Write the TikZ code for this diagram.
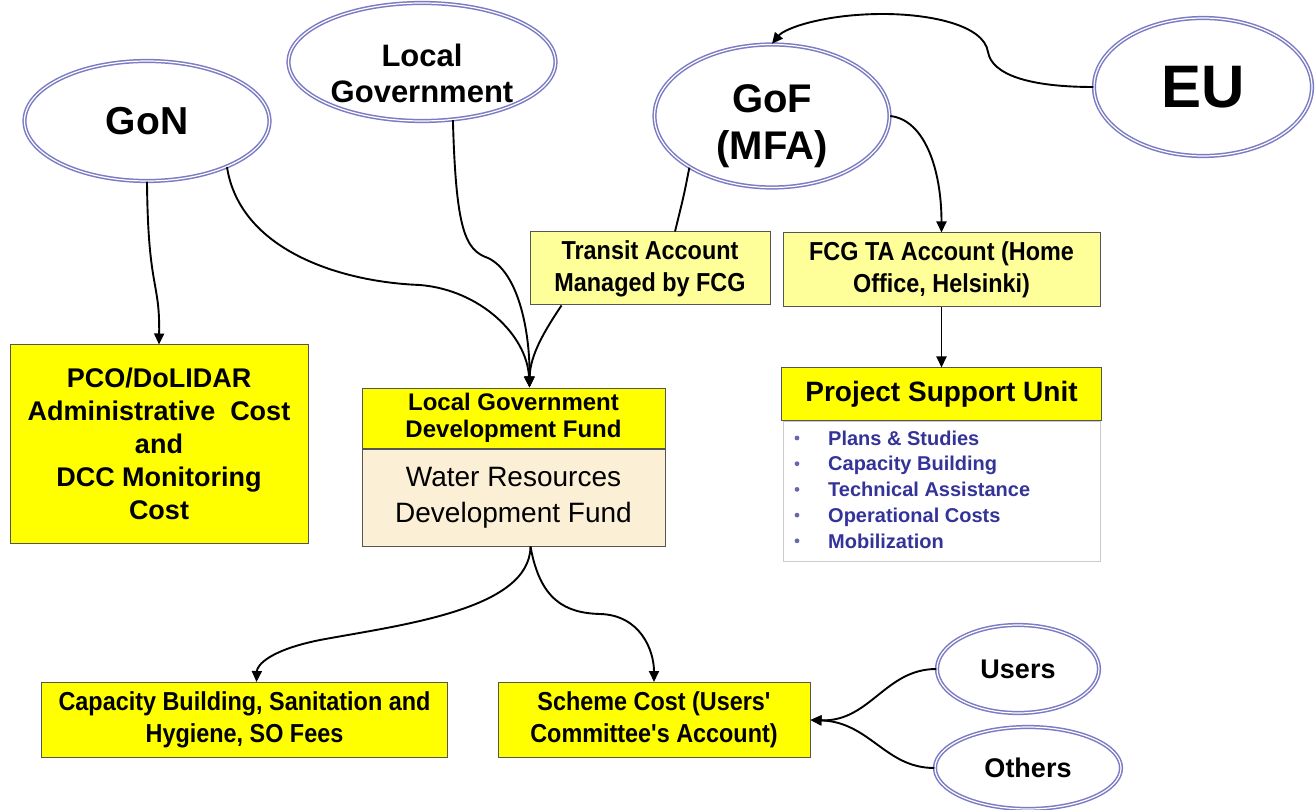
\documentclass[tikz,border=0pt]{standalone}
\usepackage{fontspec}
\setmainfont{Liberation Sans}
\newfontfamily\narrowfont[FakeStretch=0.9]{Liberation Sans}
\usetikzlibrary{shapes.geometric,arrows.meta,calc}
\definecolor{ringblue}{HTML}{7B7BC4}
\definecolor{fundyellow}{HTML}{FFFF00}
\definecolor{paleyellow}{HTML}{FFFF99}
\definecolor{fundbeige}{HTML}{FBEFD6}
\definecolor{boxgray}{HTML}{555555}
\definecolor{listblue}{HTML}{333399}
\tikzset{
source/.style={ellipse,draw=ringblue,double=white,double distance=1.2pt,line width=1.5pt,fill=white,align=center,inner sep=0pt},
account/.style={rectangle,draw=boxgray,line width=1pt,fill=paleyellow,align=center,inner sep=0pt},
fund/.style={account,fill=fundyellow},
flow/.style={line width=1.9pt,-{Triangle[length=11pt,width=10pt]}},
link/.style={line width=1.9pt}
}
\begin{document}
\begin{tikzpicture}[x=1pt,y=-1pt]
\useasboundingbox (0,0) rectangle (1315,810);
% sources
\node[source,minimum width=245pt,minimum height=120pt,font=\bfseries\fontsize{39}{47}\selectfont] (gon) at (147,121) {GoN};
\node[source,minimum width=267pt,minimum height=118pt,
  label={[align=center,yshift=-11pt,font=\bfseries\fontsize{31}{36}\selectfont]center:{Local\\Government}}] (lg) at (422,62) {};
\node[source,minimum width=235pt,minimum height=143pt,
  label={[align=center,yshift=-10pt,font=\bfseries\fontsize{40}{47}\selectfont]center:{GoF\\(MFA)}}] (gof) at (772,116) {};
\node[source,minimum width=218pt,minimum height=138pt,font=\bfseries\fontsize{60}{70}\selectfont] (eu) at (1203,87) {EU};
\node[source,minimum width=162pt,minimum height=88pt,font=\bfseries\fontsize{27}{32}\selectfont] (users) at (1018,669) {Users};
\node[source,minimum width=186pt,minimum height=82pt,font=\bfseries\fontsize{27}{32}\selectfont] (others) at (1028,768) {Others};
% accounts
\node[account,minimum width=240pt,minimum height=73pt,font=\narrowfont\bfseries\fontsize{26}{32}\selectfont] (transit) at (650,268.5) {Transit Account\\Managed by FCG};
\node[account,minimum width=317pt,minimum height=74pt,font=\narrowfont\bfseries\fontsize{26}{32}\selectfont] (fcg) at (941.5,270) {FCG TA Account (Home\\Office, Helsinki)};
\node[fund,minimum width=298pt,minimum height=198pt,font=\bfseries\fontsize{27}{33}\selectfont] (pco) at (159,444) {PCO/DoLIDAR\\Administrative~~Cost\\and\\DCC Monitoring\\Cost};
\node[fund,minimum width=303pt,minimum height=60pt,font=\bfseries\fontsize{24}{27}\selectfont] (lgdf) at (513.5,418) {Local Government\\Development Fund};
\node[account,fill=fundbeige,minimum width=303pt,minimum height=97pt,font=\fontsize{28}{36}\selectfont,anchor=north] (wrdf) at (lgdf.south) {Water Resources\\Development Fund};
\node[fund,minimum width=320pt,minimum height=52pt,font=\bfseries\fontsize{28}{32}\selectfont] (psu) at (941.5,394) {Project Support Unit};
\node[rectangle,draw=black!20,line width=1pt,minimum width=317pt,minimum height=140pt,anchor=north] (tasks) at (psu.south) {};
\foreach \entry [count=\i] in {Plans \& Studies,Capacity Building,Technical Assistance,Operational Costs,Mobilization}
{
\fill[listblue!75] (797,{412.3+25.7*\i}) circle (2.4pt);
\node[anchor=base west,inner sep=0pt,text=listblue,font=\bfseries\fontsize{20}{24}\selectfont] (task\i) at (828,{419.5+25.7*\i}) {\entry};
}
\node[fund,minimum width=406pt,minimum height=75pt,font=\narrowfont\bfseries\fontsize{26}{32}\selectfont] (cap) at (244.5,720) {Capacity Building, Sanitation and\\Hygiene, SO Fees};
\node[fund,minimum width=312pt,minimum height=75pt,font=\narrowfont\bfseries\fontsize{26}{32}\selectfont] (scheme) at (654,720) {Scheme Cost (Users'\\Committee's Account)};
% flows
\coordinate (lgdfin) at ($(lgdf.north)+(16,0)$);
\coordinate (wrdfout) at ($(wrdf.south)+(17,0)$);
\draw[flow] (gon.south) .. controls (148,290) and (160,280) .. (pco.north);
\draw[flow] (gon.-30) .. controls (240,250) and (340,282) .. (420,285) .. controls (480,290) and (527,335) .. (lgdfin);
\draw[flow] (lg.-62) .. controls (456,230) and (465,250) .. (488,258) .. controls (518,272) and (530,330) .. (lgdfin);
\draw[flow] ($(transit.south west)+(32,0)$) .. controls (545,330) and (530,355) .. (lgdfin);
\draw[link] (gof.-148) .. controls (684,195) .. ($(transit.north)+(25,0)$);
\draw[flow] (gof.east) .. controls (925,120) and (941.5,170) .. (fcg.north);
\draw[flow] (eu.west) .. controls (1030,87) and (992,75) .. (988,52) .. controls (984,25) and (930,14) .. (883,14) .. controls (825,14) and (785,28) .. (gof.north);
\draw[flow] (fcg.south) -- (psu.north);
\draw[flow] (wrdfout) .. controls (530,610) and (400,625) .. (320,640) .. controls (270,650) and (257,665) .. ($(cap.north)+(12,0)$);
\draw[flow] (wrdfout) .. controls (540,600) and (565,613) .. (600,614) .. controls (640,615) and (654,650) .. (scheme.north);
\draw[flow] (users.west) .. controls (885,669) and (870,722) .. (scheme.east);
\draw[flow] (others.west) .. controls (885,768) and (870,722) .. (scheme.east);
\end{tikzpicture}
\end{document}
